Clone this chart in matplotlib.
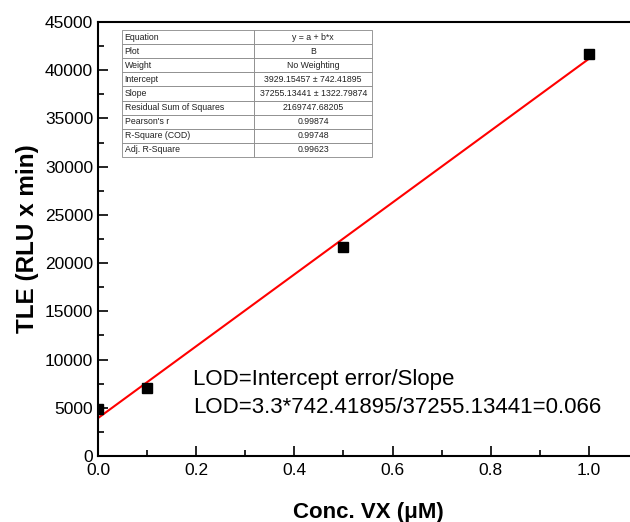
import numpy as np
import matplotlib.pyplot as plt
from matplotlib.ticker import MultipleLocator

plt.rcParams['font.family'] = ['Liberation Sans', 'DejaVu Sans']

# measured points
conc = [0.0, 0.1, 0.5, 1.0]
tle = [4860, 7050, 21650, 41670]

# fit results from the inset table
intercept = 3929.15457
slope = 37255.13441

row_names = ["Equation", "Plot", "Weight", "Intercept", "Slope",
             "Residual Sum of Squares", "Pearson's r", "R-Square (COD)", "Adj. R-Square"]
row_values = ["y = a + b*x", "B", "No Weighting", "3929.15457 \u00b1 742.41895",
              "37255.13441 \u00b1 1322.79874", "2169747.68205", "0.99874", "0.99748", "0.99623"]

lod_lines = ["LOD=Intercept error/Slope", "LOD=3.3*742.41895/37255.13441=0.066"]

fig = plt.figure(figsize=(6.3, 5.22), dpi=100)
ax = fig.add_axes([98/630, 66/522, 540/630, 434/522])

xfit = np.array([0.0, 1.0])
ax.plot(xfit, intercept + slope*xfit, color='red', lw=1.5, zorder=2)
ax.plot(conc, tle, 's', color='black', ms=7, zorder=3)

ax.set_xlim(0, 1.1)
ax.set_ylim(0, 45000)
ax.xaxis.set_major_locator(MultipleLocator(0.2))
ax.xaxis.set_minor_locator(MultipleLocator(0.1))
ax.yaxis.set_major_locator(MultipleLocator(5000))
ax.yaxis.set_minor_locator(MultipleLocator(2500))
ax.tick_params(which='both', direction='in', labelsize=12.5, width=1.2)
ax.tick_params(which='major', length=7)
ax.tick_params(which='minor', length=4)
ax.tick_params(axis='x', pad=5)
ax.xaxis.set_major_formatter(plt.FuncFormatter(lambda v, p: "%.1f" % v))
for s in ax.spines.values():
    s.set_linewidth(1.5)

ax.set_xlabel("Conc. VX (\u03bcM)", fontsize=16, fontweight='bold', labelpad=17)
ax.set_ylabel("TLE (RLU x min)", fontsize=17.5, fontweight='bold', labelpad=4)

ax.text(0.193, 7960, lod_lines[0], fontsize=16, va='center')
ax.text(0.193, 5070, lod_lines[1], fontsize=16, va='center')

cells = [[n, v] for n, v in zip(row_names, row_values)]
tb = ax.table(cellText=cells, bbox=[0.0444, 0.689, 0.463, 0.2926],
              colWidths=[0.53, 0.47], zorder=5)
tb.auto_set_font_size(False)
for (r, c), cell in tb.get_celld().items():
    cell.set_fontsize(6.3)
    cell.set_edgecolor('#888888')
    cell.set_linewidth(0.6)
    cell.get_text().set_color('#222222')
    if c == 0:
        cell.get_text().set_ha('left')
        cell.PAD = 0.02
    else:
        cell.get_text().set_ha('center')

fig.savefig("out.png", dpi=100)
